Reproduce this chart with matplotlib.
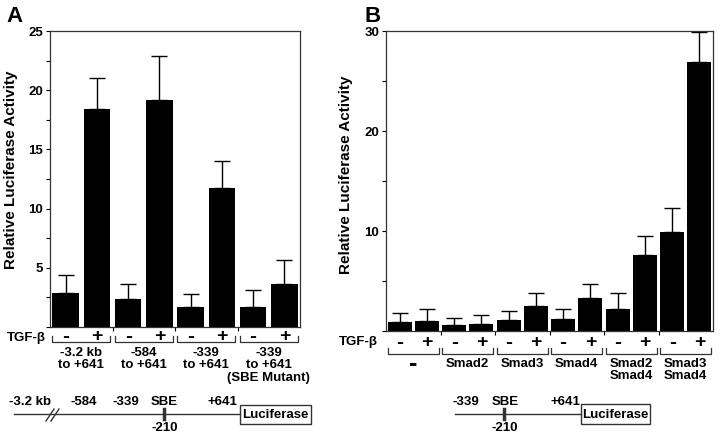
import matplotlib
matplotlib.use("Agg")
import matplotlib.pyplot as plt
import matplotlib.transforms as mtransforms
from matplotlib.lines import Line2D
from matplotlib.patches import Rectangle

plt.rcParams['font.family'] = ['Liberation Sans', 'DejaVu Sans']

# ---------------- data ----------------
a_means = [2.9, 18.4, 2.4, 19.2, 1.7, 11.7, 1.7, 3.6]
a_errs = [1.5, 2.6, 1.2, 3.7, 1.1, 2.3, 1.4, 2.1]
a_signs = ['-', '+', '-', '+', '-', '+', '-', '+']
a_groups = ['-3.2 kb\nto +641', '-584\nto +641', '-339\nto +641', '-339\nto +641\n(SBE Mutant)']
a_yticks = [0, 2.5, 5, 7.5, 10, 12.5, 15, 17.5, 20, 22.5, 25]
a_yticklabels = ['', '', '5', '', '10', '', '15', '', '20', '', '25']

b_means = [0.9, 1.0, 0.6, 0.7, 1.1, 2.5, 1.2, 3.3, 2.2, 7.6, 9.9, 26.9]
b_errs = [0.9, 1.2, 0.7, 0.9, 0.9, 1.3, 1.0, 1.4, 1.6, 1.9, 2.4, 3.0]
b_signs = ['-', '+'] * 6
b_groups = ['-', 'Smad2', 'Smad3', 'Smad4', 'Smad2\nSmad4', 'Smad3\nSmad4']
b_yticks = [0, 5, 10, 15, 20, 25, 30]
b_yticklabels = ['', '', '10', '', '20', '', '30']

W, H = 724, 437
fig = plt.figure(figsize=(W / 100, H / 100), dpi=100)


def fx(x):
    return x / W


def fy(y):
    return 1 - y / H


def make_axes(l, t, r, b):
    return fig.add_axes([fx(l), fy(b), fx(r - l), (b - t) / H])


def draw_panel(ax, means, errs, ylim, yticks, yticklabels, width, capsize):
    x = list(range(len(means)))
    ax.bar(x, means, width=width, color='black', zorder=2)
    ax.errorbar(x, means, yerr=[[0] * len(errs), errs], fmt='none', ecolor='black',
                elinewidth=1.0, capsize=capsize, capthick=1.0, zorder=1)
    ax.set_xlim(-0.5, len(means) - 0.5)
    ax.set_ylim(*ylim)
    ax.set_yticks(yticks)
    ax.set_yticklabels(yticklabels, fontsize=9.5, fontweight='bold')
    ax.set_xticks([i + 1.5 for i in range(0, len(means) - 2, 2)])
    ax.set_xticklabels([])
    ax.tick_params(axis='y', direction='out', length=3, width=0.8, pad=2)
    ax.tick_params(axis='x', direction='out', length=3, width=0.8)
    for s in ax.spines.values():
        s.set_linewidth(0.9)
        s.set_color('#333333')
    ax.set_ylabel('Relative Luciferase Activity', fontsize=11, fontweight='bold')


def annotate_groups(ax, signs, groups, width, sign_y, br_y, br_h, lab_y, lab_fs, ls):
    tr = mtransforms.blended_transform_factory(ax.transData, fig.transFigure)
    for i, s in enumerate(signs):
        ax.text(i, fy(sign_y), s, transform=tr, ha='center', va='center',
                fontsize=14 if s == '+' else 15, fontweight='bold', clip_on=False)
    for g, lab in enumerate(groups):
        x0 = 2 * g - width / 2
        x1 = 2 * g + 1 + width / 2
        ax.add_line(Line2D([x0, x0, x1, x1], [fy(br_y - br_h), fy(br_y), fy(br_y), fy(br_y - br_h)],
                           transform=tr, color='#333333', lw=0.9, clip_on=False))
        if lab == '-':
            ax.text(2 * g + 0.5, fy(lab_y + 6), lab, transform=tr, ha='center', va='center',
                    fontsize=18, fontweight='bold', clip_on=False)
        else:
            ax.text(2 * g + 0.5, fy(lab_y), lab, transform=tr, ha='center', va='top',
                    fontsize=lab_fs, fontweight='bold', linespacing=ls, clip_on=False)


# ---------------- Panel A ----------------
axA = make_axes(50, 31, 300, 327)
draw_panel(axA, a_means, a_errs, (0, 25), a_yticks, a_yticklabels, 0.85, 6)
axA.yaxis.set_label_coords(-0.128, 0.53)
annotate_groups(axA, a_signs, a_groups, 0.85, 337, 342, 6, 347, 9.5, 1.05)
fig.text(fx(46), fy(338), 'TGF-\u03b2', ha='right', va='center', fontsize=9.5, fontweight='bold')
fig.text(fx(6), fy(16), 'A', ha='left', va='center', fontsize=16, fontweight='bold')

# ---------------- Panel B ----------------
axB = make_axes(386, 31, 713, 331)
draw_panel(axB, b_means, b_errs, (0, 30), b_yticks, b_yticklabels, 0.88, 6)
axB.yaxis.set_label_coords(-0.10, 0.52)
annotate_groups(axB, b_signs, b_groups, 0.88, 342, 354, 6, 358, 9.5, 0.95)
fig.text(fx(378), fy(342), 'TGF-\u03b2', ha='right', va='center', fontsize=9.5, fontweight='bold')
fig.text(fx(365), fy(16), 'B', ha='left', va='center', fontsize=16, fontweight='bold')

# ---------------- promoter diagrams ----------------
lc = '#333333'


def fline(xs, ys, lw=1.0):
    fig.add_artist(Line2D([fx(v) for v in xs], [fy(v) for v in ys], color=lc, lw=lw))


def ftext(x, y, s, fs=9.5, ha='center'):
    fig.text(fx(x), fy(y), s, ha=ha, va='center', fontsize=fs, fontweight='bold')


def luciferase_box(x0, x1, y0, y1):
    fig.add_artist(Rectangle((fx(x0), fy(y1)), fx(x1 - x0), (y1 - y0) / H, fill=False,
                             edgecolor=lc, lw=1.0, transform=fig.transFigure))
    ftext((x0 + x1) / 2, (y0 + y1) / 2 + 0.5, 'Luciferase', fs=9.5)


# Panel A diagram
fline([14, 240], [414, 414])
fline([46, 54], [421, 409])
fline([51, 59], [421, 409])
fline([164, 164], [409, 419], lw=2.5)
ftext(30, 402, '-3.2 kb')
ftext(84, 402, '-584')
ftext(126, 402, '-339')
ftext(164, 402, 'SBE')
ftext(222, 402, '+641')
ftext(165, 428, '-210')
luciferase_box(240, 311, 405, 424)

# Panel B diagram
fline([455, 581], [414, 414])
fline([504, 504], [409, 419], lw=2.5)
ftext(466, 402, '-339')
ftext(505, 402, 'SBE')
ftext(565, 402, '+641')
ftext(505, 428, '-210')
luciferase_box(581, 650, 404, 424)

fig.savefig('out.png', dpi=100)
